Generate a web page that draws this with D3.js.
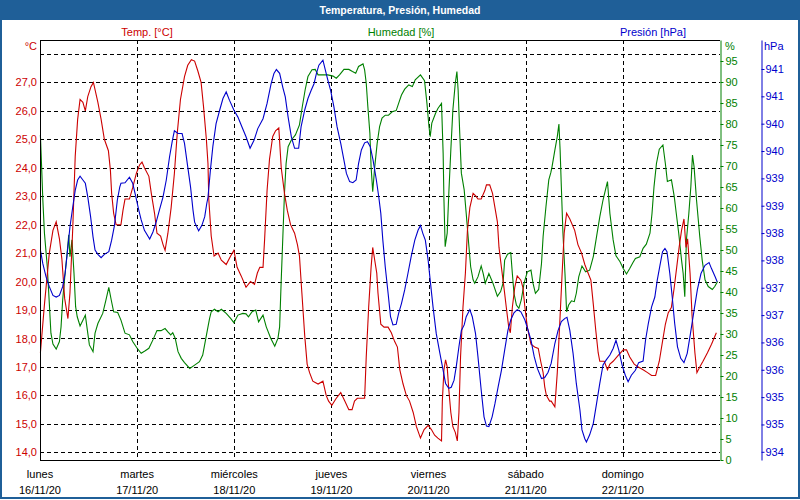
<!DOCTYPE html>
<html>
<head>
<meta charset="utf-8">
<script src="https://cdn.jsdelivr.net/npm/d3@7"></script>
<style>
    body { margin: 0; background: #ffffff; }
    svg { display: block; }
    text { font-family: "Liberation Sans", Arial, sans-serif; font-size: 11px; }
</style>
</head>
<body>
<svg id="chart" width="800" height="500"></svg>
<script>
// Hours since lunes 16/11/20 00:00
const dayNames = ['lunes', 'martes', 'miércoles', 'jueves', 'viernes', 'sábado', 'domingo'];
const dayDates = ['16/11/20', '17/11/20', '18/11/20', '19/11/20', '20/11/20', '21/11/20', '22/11/20'];

const tempTicks = [14, 15, 16, 17, 18, 19, 20, 21, 22, 23, 24, 25, 26, 27, 28];
const tempLabels = [14, 15, 16, 17, 18, 19, 20, 21, 22, 23, 24, 25, 26, 27];
const humTicks = [0, 5, 10, 15, 20, 25, 30, 35, 40, 45, 50, 55, 60, 65, 70, 75, 80, 85, 90, 95];
const presTicks = [934.3, 934.8, 935.3, 935.8, 936.3, 936.8, 937.3, 937.8, 938.3, 938.8, 939.3, 939.8, 940.3, 940.8, 941.3];

const temperature = [
    [0.1, 17.5], [1.1, 19.2], [2.3, 21.0], [3.2, 21.8], [4.0, 22.1], [4.8, 21.5], [5.4, 20.8], [6.1, 19.4],
    [6.9, 18.7], [7.4, 19.6], [8.1, 21.9], [8.7, 24.4], [9.3, 25.7], [9.9, 26.4], [10.6, 26.3], [11.2, 26.0],
    [11.8, 26.5], [12.6, 26.85], [13.2, 27.0], [14.3, 26.3], [15.1, 25.7], [15.9, 25.0], [16.9, 24.6], [17.4, 23.9],
    [17.7, 23.1], [18.2, 22.4], [18.8, 22.0], [20.0, 22.0], [20.5, 22.5], [21.0, 22.9], [22.1, 22.9], [22.9, 23.3],
    [23.8, 23.8], [24.6, 24.1], [25.2, 24.2], [25.8, 24.0], [26.9, 23.7], [27.5, 23.1], [28.3, 22.4], [28.9, 21.7],
    [29.8, 21.6], [30.4, 21.3], [30.9, 21.1], [31.6, 21.7], [32.4, 22.6], [33.2, 23.8], [33.9, 25.2], [34.7, 26.4],
    [35.7, 27.2], [36.5, 27.6], [37.4, 27.8], [38.2, 27.75], [39.0, 27.4], [39.8, 27.0], [40.4, 26.15], [41.1, 25.0],
    [41.5, 24.15], [41.7, 22.9], [42.3, 21.6], [43.0, 20.9], [44.0, 21.0], [44.8, 20.75], [46.0, 20.6], [47.1, 20.9],
    [47.9, 21.1], [48.7, 20.5], [49.7, 20.2], [50.9, 19.8], [52.0, 20.0], [53.0, 19.9], [53.7, 20.3], [54.3, 20.5],
    [55.1, 20.5], [55.5, 21.5], [56.1, 23.2], [56.7, 24.3], [57.5, 25.1], [58.2, 25.3], [59.0, 25.4], [59.6, 24.0],
    [60.4, 23.1], [61.1, 22.5], [61.9, 22.0], [62.9, 21.7], [63.6, 21.3], [64.1, 20.9], [64.7, 19.6], [65.4, 18.1],
    [66.0, 17.1], [66.6, 16.8], [67.4, 16.5], [68.7, 16.4], [69.9, 16.5], [70.7, 16.0], [71.3, 15.8], [72.1, 15.65],
    [73.2, 15.9], [74.3, 16.1], [75.3, 15.8], [76.3, 15.5], [77.1, 15.5], [77.7, 15.8], [78.4, 15.9], [80.2, 15.9],
    [80.6, 17.35], [81.2, 19.1], [81.8, 20.5], [82.2, 21.2], [82.7, 20.75], [83.2, 20.3], [83.5, 19.6], [84.2, 18.5],
    [85.0, 18.4], [86.0, 18.4], [86.8, 18.2], [87.6, 17.9], [88.3, 17.7], [88.9, 16.9], [89.7, 16.4], [90.5, 16.0],
    [91.3, 15.8], [92.2, 15.4], [93.0, 14.9], [94.0, 14.5], [94.9, 14.8], [95.9, 14.95], [96.7, 14.8], [97.5, 14.6],
    [98.3, 14.5], [99.2, 14.4], [99.4, 15.8], [99.8, 16.9], [100.2, 17.25], [100.6, 17.0], [101.0, 16.2], [101.5, 15.4],
    [102.0, 14.9], [102.6, 14.7], [103.1, 14.4], [103.5, 15.4], [103.9, 17.35], [104.5, 19.1], [105.1, 20.3], [105.6, 21.8],
    [106.2, 22.6], [107.0, 23.1], [107.7, 23.0], [108.2, 22.9], [109.0, 22.9], [109.9, 23.2], [110.3, 23.4], [111.1, 23.4],
    [111.8, 23.1], [112.4, 22.6], [113.0, 22.1], [113.4, 21.2], [114.0, 20.5], [114.7, 19.7], [115.2, 19.1], [115.8, 18.4],
    [116.2, 18.2], [116.7, 19.1], [117.3, 19.8], [117.9, 20.2], [118.8, 20.05], [119.3, 19.8], [119.8, 19.1], [120.4, 18.4],
    [121.3, 17.8], [122.2, 17.7], [123.1, 17.65], [123.7, 17.2], [124.3, 16.8], [124.7, 16.3], [125.1, 16.0], [125.9, 15.8],
    [126.3, 15.8], [127.2, 15.6], [127.8, 16.8], [128.4, 18.5], [129.0, 20.3], [129.5, 21.7], [130.1, 22.4], [130.9, 22.2],
    [132.1, 21.8], [132.9, 21.3], [133.8, 21.0], [134.6, 20.6], [135.4, 20.3], [136.1, 20.05], [136.7, 19.2], [137.3, 18.3],
    [137.9, 17.5], [138.3, 17.2], [139.4, 17.2], [140.2, 16.9], [140.8, 17.1], [141.6, 17.2], [142.8, 17.4], [144.1, 17.6],
    [144.9, 17.6], [145.7, 17.35], [146.8, 17.1], [147.8, 17.0], [149.0, 16.9], [150.1, 16.8], [151.1, 16.7], [152.1, 16.7],
    [153.0, 17.2], [153.8, 17.9], [154.5, 18.5], [155.2, 18.9], [156.0, 19.1], [156.7, 19.8], [157.3, 20.5], [157.9, 21.2],
    [158.5, 21.8], [159.1, 22.2], [159.6, 21.2], [160.0, 21.5], [160.6, 20.3], [161.1, 18.8], [161.8, 17.5], [162.3, 16.8],
    [163.0, 17.0], [163.8, 17.2], [164.9, 17.5], [165.9, 17.8], [167.1, 18.2]
];

const humidity = [
    [0.1, 77.4], [0.4, 69.8], [0.7, 61.9], [1.1, 54.0], [1.8, 46.0], [2.3, 37.3], [2.7, 30.2], [3.2, 27.6],
    [4.0, 26.4], [4.8, 28.2], [5.2, 31.7], [5.6, 38.1], [6.2, 44.4], [6.7, 49.2], [7.1, 53.6], [7.4, 48.4],
    [7.9, 52.4], [8.4, 44.4], [8.8, 36.5], [9.2, 34.1], [9.9, 31.9], [10.6, 33.3], [11.2, 34.5], [11.8, 30.2],
    [12.2, 27.4], [13.1, 25.8], [13.6, 30.2], [14.3, 32.5], [15.5, 34.9], [16.3, 38.1], [17.0, 41.1], [17.6, 38.1],
    [18.2, 35.3], [19.2, 35.1], [20.0, 33.3], [21.0, 30.2], [22.1, 29.8], [22.9, 28.2], [24.0, 26.6], [25.0, 25.4],
    [26.0, 26.0], [26.9, 26.6], [27.9, 28.6], [28.9, 30.8], [29.9, 30.8], [30.9, 31.3], [31.6, 30.5], [32.3, 29.8],
    [32.8, 30.3], [33.4, 29.0], [34.1, 25.8], [34.9, 24.2], [35.7, 23.2], [37.0, 21.8], [38.2, 22.6], [39.4, 23.4],
    [40.2, 25.0], [40.9, 28.6], [41.5, 31.7], [41.9, 33.7], [42.3, 35.3], [43.1, 35.9], [44.0, 35.3], [44.8, 35.9],
    [46.0, 34.9], [47.1, 33.7], [47.9, 32.7], [48.9, 34.5], [50.1, 34.9], [50.9, 34.8], [51.5, 34.1], [52.4, 35.3],
    [53.3, 35.7], [54.0, 32.9], [55.1, 34.5], [55.9, 31.7], [57.0, 29.0], [58.0, 27.1], [58.8, 29.0], [59.2, 31.7],
    [59.6, 42.9], [60.0, 53.2], [60.4, 63.5], [60.8, 70.6], [61.3, 74.6], [62.1, 76.2], [63.1, 77.4], [64.1, 79.8],
    [64.8, 84.1], [65.5, 88.1], [66.2, 91.3], [67.2, 92.9], [68.0, 93.0], [68.7, 91.7], [69.9, 91.7], [71.1, 91.7],
    [72.4, 91.4], [73.2, 90.9], [74.0, 91.7], [75.1, 93.0], [76.3, 93.0], [77.2, 92.5], [78.0, 92.1], [78.7, 93.7],
    [79.8, 94.3], [80.2, 92.9], [80.6, 89.7], [81.0, 84.1], [81.5, 77.8], [81.8, 69.8], [82.2, 63.9], [82.7, 69.8],
    [83.3, 75.4], [83.9, 79.4], [84.5, 81.4], [85.3, 82.1], [86.1, 82.1], [87.0, 82.9], [88.0, 83.2], [88.6, 84.9],
    [89.3, 86.9], [90.1, 88.3], [91.1, 89.3], [92.0, 88.9], [92.7, 90.5], [94.0, 91.7], [95.0, 90.3], [95.6, 84.9],
    [96.1, 79.4], [96.4, 77.0], [96.8, 80.2], [97.7, 82.5], [98.3, 83.7], [99.2, 84.9], [99.6, 73.0], [99.8, 61.9],
    [100.1, 50.8], [100.6, 54.0], [101.0, 63.5], [101.5, 73.8], [102.0, 83.3], [102.6, 89.7], [103.0, 92.5], [103.3, 88.1],
    [103.7, 77.8], [104.1, 68.3], [104.8, 64.3], [105.3, 58.7], [105.9, 51.6], [106.4, 46.0], [107.0, 42.9], [107.4, 42.1],
    [108.2, 43.6], [109.0, 46.2], [109.5, 44.4], [110.0, 42.1], [110.9, 44.4], [111.9, 42.1], [113.0, 39.0], [113.8, 40.1],
    [114.4, 42.1], [114.8, 47.6], [115.5, 49.0], [116.3, 49.4], [116.7, 44.4], [117.1, 39.7], [117.7, 36.9], [118.3, 36.1],
    [118.9, 38.1], [119.6, 42.1], [120.4, 44.8], [121.3, 45.2], [121.8, 42.1], [122.4, 39.7], [123.2, 40.6], [123.9, 46.8],
    [124.3, 53.2], [125.0, 60.3], [125.7, 66.7], [126.2, 68.4], [126.5, 69.8], [127.2, 73.8], [127.8, 77.0], [128.2, 80.0],
    [128.5, 73.8], [128.8, 65.1], [129.2, 54.0], [129.7, 44.4], [130.1, 35.3], [130.6, 36.9], [131.3, 37.9], [132.0, 37.7],
    [132.5, 39.7], [133.1, 43.6], [133.9, 46.2], [134.8, 44.8], [135.8, 45.2], [136.7, 48.4], [137.5, 53.2], [138.3, 57.9],
    [139.1, 61.9], [139.7, 64.3], [140.2, 66.3], [140.8, 58.7], [141.6, 52.4], [142.3, 48.6], [143.3, 47.2], [144.1, 45.6],
    [144.9, 44.3], [145.7, 45.6], [146.5, 47.0], [147.1, 48.0], [148.2, 48.4], [149.0, 50.4], [149.8, 51.4], [150.7, 54.0],
    [151.2, 58.7], [151.7, 65.1], [152.3, 70.6], [153.0, 74.0], [153.9, 75.0], [154.5, 70.6], [155.0, 66.3], [156.0, 66.7],
    [156.7, 62.7], [157.2, 58.7], [157.8, 54.0], [158.5, 47.6], [158.9, 44.4], [159.3, 38.9], [159.7, 52.4], [160.3, 58.7],
    [160.8, 65.1], [161.2, 72.6], [161.6, 69.8], [162.2, 61.9], [163.0, 53.2], [163.6, 47.6], [164.3, 42.9], [165.1, 41.3],
    [166.1, 40.6], [166.7, 41.3], [167.4, 42.5]
];

const pressure = [
    [0.1, 937.99], [0.7, 937.74], [1.5, 937.50], [2.3, 937.32], [3.2, 937.16], [4.0, 937.13], [4.8, 937.16], [5.6, 937.32],
    [6.2, 937.56], [6.9, 938.05], [7.4, 938.41], [8.1, 938.78], [8.7, 939.08], [9.3, 939.27], [9.9, 939.34], [10.6, 939.27],
    [11.2, 939.21], [11.8, 938.96], [12.5, 938.60], [13.1, 938.23], [13.6, 937.99], [14.3, 937.91], [15.1, 937.85], [15.9, 937.91],
    [17.0, 937.96], [17.7, 938.17], [18.4, 938.44], [19.1, 938.90], [19.7, 939.14], [20.0, 939.21], [21.0, 939.22], [22.1, 939.32],
    [22.9, 939.21], [23.6, 938.99], [24.4, 938.72], [25.0, 938.54], [25.8, 938.35], [27.1, 938.19], [27.9, 938.32], [28.7, 938.50],
    [29.5, 938.72], [30.4, 938.96], [31.2, 939.27], [32.0, 939.69], [32.7, 939.99], [33.2, 940.17], [34.1, 940.12], [35.1, 940.12],
    [35.7, 939.94], [36.5, 939.51], [37.2, 939.14], [37.8, 938.72], [38.2, 938.50], [39.2, 938.34], [40.0, 938.44], [40.7, 938.60],
    [41.2, 938.84], [41.5, 938.95], [42.1, 939.45], [42.7, 939.88], [43.5, 940.30], [44.4, 940.55], [45.2, 940.76], [46.0, 940.88],
    [46.8, 940.73], [47.9, 940.55], [48.9, 940.42], [49.9, 940.24], [50.9, 940.06], [51.9, 939.85], [52.9, 940.00], [53.8, 940.21],
    [55.1, 940.39], [56.1, 940.67], [57.1, 941.03], [57.8, 941.22], [58.4, 941.29], [59.2, 941.22], [60.0, 940.96], [60.6, 940.79],
    [61.3, 940.42], [62.1, 940.06], [62.9, 939.85], [63.9, 939.85], [64.5, 940.24], [65.4, 940.55], [66.2, 940.76], [67.0, 940.91],
    [67.7, 941.03], [68.3, 941.22], [68.9, 941.37], [69.9, 941.46], [70.5, 941.28], [71.1, 941.10], [71.8, 940.91], [72.6, 940.61],
    [73.4, 940.24], [74.3, 939.94], [75.1, 939.63], [75.7, 939.39], [76.5, 939.24], [77.3, 939.22], [78.1, 939.27], [78.7, 939.57],
    [79.4, 939.82], [80.2, 939.95], [80.9, 939.97], [81.6, 939.88], [82.3, 939.63], [83.1, 939.27], [83.7, 938.96], [84.2, 938.66],
    [84.7, 938.17], [85.3, 937.68], [86.0, 937.20], [86.6, 936.77], [87.2, 936.62], [88.0, 936.63], [88.6, 936.83], [89.3, 937.01],
    [90.1, 937.26], [90.9, 937.56], [91.7, 937.87], [92.6, 938.17], [93.4, 938.35], [94.0, 938.44], [94.6, 938.29], [95.2, 938.17],
    [95.9, 937.80], [96.4, 937.44], [97.1, 936.95], [97.9, 936.46], [98.8, 936.10], [99.6, 935.79], [100.2, 935.55], [101.0, 935.46],
    [101.6, 935.48], [102.3, 935.61], [102.9, 935.89], [103.5, 936.22], [104.1, 936.52], [104.8, 936.62], [105.3, 936.77], [106.2, 936.90],
    [106.8, 936.77], [107.6, 936.46], [108.2, 936.04], [109.0, 935.43], [109.7, 934.94], [110.3, 934.77], [110.9, 934.76], [111.7, 934.94],
    [112.4, 935.18], [113.2, 935.49], [114.0, 935.79], [114.8, 936.16], [115.6, 936.52], [116.3, 936.71], [117.1, 936.84], [117.9, 936.90],
    [118.8, 936.86], [119.8, 936.71], [120.6, 936.52], [121.3, 936.34], [122.1, 936.04], [122.9, 935.82], [123.9, 935.64], [124.7, 935.66],
    [125.5, 935.75], [126.3, 935.92], [127.2, 936.28], [128.0, 936.52], [128.8, 936.68], [129.7, 936.74], [130.2, 936.76], [130.9, 936.52],
    [131.7, 936.10], [132.5, 935.55], [133.4, 935.06], [133.9, 934.70], [134.6, 934.54], [135.0, 934.48], [135.8, 934.61], [136.7, 934.82],
    [137.5, 935.18], [138.3, 935.55], [139.1, 935.89], [139.9, 935.98], [140.8, 936.07], [141.6, 936.19], [142.3, 936.34], [143.0, 936.16],
    [143.8, 935.89], [144.6, 935.70], [145.3, 935.58], [146.1, 935.70], [147.1, 935.79], [147.9, 935.93], [149.0, 935.96], [149.6, 936.34],
    [150.3, 936.65], [151.1, 936.95], [151.9, 937.13], [152.5, 937.44], [153.1, 937.68], [153.8, 937.96], [154.4, 938.02], [154.9, 937.96],
    [155.6, 937.56], [156.2, 937.13], [156.8, 936.65], [157.5, 936.22], [158.3, 936.01], [159.1, 935.93], [159.9, 936.10], [160.7, 936.46],
    [161.6, 936.89], [162.4, 937.26], [163.3, 937.56], [164.3, 937.71], [165.3, 937.76], [165.9, 937.65], [166.8, 937.50], [167.3, 937.41]
];

const colors = { temp: '#cc0000', hum: '#008000', pres: '#0000cc', frame: '#1f5f98' };

const svg = d3.select('#chart');
const plot = { left: 40, right: 720, top: 40, bottom: 460 };

const x = d3.scaleLinear().domain([0, 168]).range([plot.left, plot.right]);
const yTemp = d3.scaleLinear().domain([13.73, 28.49]).range([plot.bottom, plot.top]);
const yHum = d3.scaleLinear().domain([0, 100]).range([plot.bottom, plot.top]);
const yPres = d3.scaleLinear().domain([934.15, 941.83]).range([plot.bottom, plot.top]);

// background and title bar
svg.append('rect').attr('width', 800).attr('height', 500).attr('fill', '#ffffff');
svg.append('rect').attr('width', 800).attr('height', 20).attr('fill', colors.frame);
svg.append('rect')
    .attr('x', 1).attr('y', 1).attr('width', 798).attr('height', 497)
    .attr('fill', 'none').attr('stroke', colors.frame).attr('stroke-width', 2);
svg.append('text')
    .attr('x', 400).attr('y', 14)
    .attr('text-anchor', 'middle')
    .attr('fill', '#ffffff')
    .style('font-weight', 'bold')
    .style('font-size', '10.5px')
    .text('Temperatura, Presión, Humedad');

// grid
const grid = svg.append('g')
    .attr('stroke', '#000')
    .attr('stroke-dasharray', '4,3')
    .attr('shape-rendering', 'crispEdges');

grid.selectAll('line.h')
    .data(tempTicks)
    .join('line')
    .attr('class', 'h')
    .attr('x1', plot.left).attr('x2', plot.right)
    .attr('y1', d => Math.round(yTemp(d)) + 0.5)
    .attr('y2', d => Math.round(yTemp(d)) + 0.5);

grid.selectAll('line.v')
    .data(d3.range(1, 7))
    .join('line')
    .attr('class', 'v')
    .attr('y1', plot.top).attr('y2', plot.bottom)
    .attr('x1', d => Math.round(x(d * 24)) + 0.5)
    .attr('x2', d => Math.round(x(d * 24)) + 0.5);

// series
function drawSeries(data, yScale, color) {
    svg.append('path')
        .datum(data)
        .attr('fill', 'none')
        .attr('stroke', color)
        .attr('stroke-width', 1.1)
        .attr('d', d3.line()
            .x(d => x(d[0]))
            .y(d => yScale(d[1]))
        );
}

drawSeries(humidity, yHum, colors.hum);
drawSeries(temperature, yTemp, colors.temp);
drawSeries(pressure, yPres, colors.pres);

// frame of the plot
const frame = svg.append('g').attr('shape-rendering', 'crispEdges');
frame.append('line').attr('x1', plot.left + 0.5).attr('x2', plot.left + 0.5)
    .attr('y1', plot.top).attr('y2', plot.bottom + 1).attr('stroke', '#000');
frame.append('line').attr('x1', plot.left).attr('x2', plot.right)
    .attr('y1', plot.top + 0.5).attr('y2', plot.top + 0.5).attr('stroke', '#000');
frame.append('line').attr('x1', plot.left).attr('x2', plot.right)
    .attr('y1', plot.bottom + 0.5).attr('y2', plot.bottom + 0.5).attr('stroke', '#000');

// left axis (temperature)
const leftAxis = svg.append('g')
    .attr('transform', `translate(${plot.left},0)`)
    .call(d3.axisLeft(yTemp)
        .tickValues(tempLabels)
        .tickSize(0)
        .tickPadding(3)
        .tickFormat(d => d3.format('.1f')(d).replace('.', ',')));
leftAxis.select('.domain').remove();
leftAxis.selectAll('text')
    .attr('fill', colors.temp)
    .style('font-family', '"Liberation Sans", Arial, sans-serif')
    .style('font-size', '11px');

// right axis (humidity)
const humAxis = svg.append('g')
    .attr('transform', `translate(${plot.right + 0.5},0)`)
    .call(d3.axisRight(yHum)
        .tickValues(humTicks)
        .tickSize(3)
        .tickSizeOuter(0)
        .tickPadding(2));
humAxis.select('.domain').attr('stroke', colors.hum);
humAxis.selectAll('.tick line').attr('stroke', colors.hum);
humAxis.selectAll('text')
    .attr('fill', colors.hum)
    .style('font-family', '"Liberation Sans", Arial, sans-serif')
    .style('font-size', '11px');

// outer right axis (pressure)
const presAxis = svg.append('g')
    .attr('transform', 'translate(761.5,0)')
    .call(d3.axisRight(yPres)
        .tickValues(presTicks)
        .tickSize(3)
        .tickSizeOuter(0)
        .tickPadding(1)
        .tickFormat(d3.format('.0f')));
presAxis.select('.domain').attr('stroke', colors.pres);
presAxis.selectAll('.tick line').attr('stroke', colors.pres);
presAxis.selectAll('text')
    .attr('fill', colors.pres)
    .style('font-family', '"Liberation Sans", Arial, sans-serif')
    .style('font-size', '11px');

// unit labels
svg.append('text').attr('x', 37).attr('y', 50).attr('text-anchor', 'end')
    .attr('fill', colors.temp).text('°C');
svg.append('text').attr('x', 725).attr('y', 50)
    .attr('fill', colors.hum).text('%');
svg.append('text').attr('x', 764).attr('y', 50)
    .attr('fill', colors.pres).text('hPa');

// series headers
svg.append('text').attr('x', 147).attr('y', 36).attr('text-anchor', 'middle')
    .attr('fill', colors.temp).text('Temp. [°C]');
svg.append('text').attr('x', 401).attr('y', 36).attr('text-anchor', 'middle')
    .attr('fill', colors.hum).text('Humedad [%]');
svg.append('text').attr('x', 653).attr('y', 36).attr('text-anchor', 'middle')
    .attr('fill', colors.pres).text('Presión [hPa]');

// day labels
const days = svg.append('g');
days.selectAll('text.name')
    .data(dayNames)
    .join('text')
    .attr('class', 'name')
    .attr('x', (d, i) => x(i * 24))
    .attr('y', 478)
    .attr('text-anchor', 'middle')
    .attr('fill', '#000')
    .text(d => d);
days.selectAll('text.date')
    .data(dayDates)
    .join('text')
    .attr('class', 'date')
    .attr('x', (d, i) => x(i * 24))
    .attr('y', 494)
    .attr('text-anchor', 'middle')
    .attr('fill', '#000')
    .text(d => d);
</script>
</body>
</html>
